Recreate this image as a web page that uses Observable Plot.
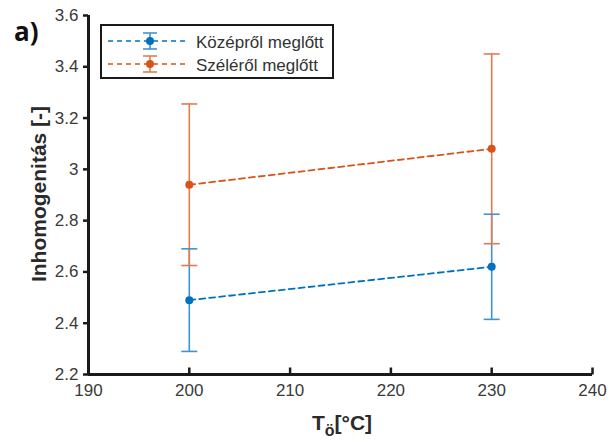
<!DOCTYPE html>
<html><head><meta charset="utf-8">
<script src="https://cdn.jsdelivr.net/npm/d3@7"></script>
<script src="https://cdn.jsdelivr.net/npm/@observablehq/plot@0.6"></script>
<style>
body{margin:0;background:#fff}
#chart{position:relative;width:610px;height:442px}
</style>
</head><body><div id="chart"></div>
<script>
const temps = [200, 230];
const seriesNames = ["Középről meglőtt", "Széléről meglőtt"];
const kozeprolMean = [2.49, 2.62];
const kozeprolErr = [0.20, 0.205];
const szelerolMean = [2.94, 3.08];
const szelerolErr = [0.315, 0.37];
const xTicks = [190, 200, 210, 220, 230, 240];
const yTicks = [2.2, 2.4, 2.6, 2.8, 3, 3.2, 3.4, 3.6];
const colors = ["#0072BD", "#D95319"];
const barColors = ["#3f93cf", "#e37b50"];

const means = [kozeprolMean, szelerolMean];
const errs = [kozeprolErr, szelerolErr];
const rows = [];
seriesNames.forEach((name, s) => temps.forEach((t, i) => rows.push({
  series: s, name, x: t, y: means[s][i], lo: means[s][i] - errs[s][i], hi: means[s][i] + errs[s][i]
})));

const capSymbol = {draw(ctx, size) { const r = Math.sqrt(size / Math.PI); ctx.moveTo(-r, 0); ctx.lineTo(r, 0); }};
const vSymbol = {draw(ctx, size) { const r = Math.sqrt(size / Math.PI); ctx.moveTo(0, -r); ctx.lineTo(0, r); }};

const svg = Plot.plot({
  width: 610, height: 442,
  marginLeft: 88, marginRight: 18, marginTop: 15, marginBottom: 68,
  style: {fontFamily: "'Liberation Sans', Arial, sans-serif", fontSize: "17px", color: "#3a3a3a", background: "white"},
  x: {domain: [190, 240], ticks: xTicks, tickSize: 0, tickPadding: 9, tickFormat: d => String(d), label: null},
  y: {domain: [2.2, 3.6], ticks: yTicks, tickSize: 5, tickPadding: 5, tickFormat: d => String(d), label: null},
  marks: [
    Plot.ruleX(rows, {x: "x", y1: "lo", y2: "hi", stroke: d => barColors[d.series], strokeWidth: 1.6}),
    Plot.dot(rows, {x: "x", y: "lo", symbol: capSymbol, r: 8, fill: "none", stroke: d => barColors[d.series], strokeWidth: 1.6}),
    Plot.dot(rows, {x: "x", y: "hi", symbol: capSymbol, r: 8, fill: "none", stroke: d => barColors[d.series], strokeWidth: 1.6}),
    Plot.line(rows, {x: "x", y: "y", z: "series", stroke: d => colors[d.series], strokeWidth: 1.8, strokeDasharray: "6,4"}),
    Plot.dot(rows, {x: "x", y: "y", r: 4, fill: d => colors[d.series], stroke: "none"}),
    Plot.ruleX([190], {stroke: "#1a1a1a", strokeWidth: 3}),
    Plot.ruleY([2.2], {stroke: "#1a1a1a", strokeWidth: 3}),
    Plot.dot(xTicks, {x: d => d, frameAnchor: "bottom", symbol: vSymbol, r: 3.5, dy: -3.5, fill: "none", stroke: "#1a1a1a", strokeWidth: 2.5})
  ]
});

d3.select(svg).selectAll('g[aria-label$="tick"] path').attr("stroke", "#1a1a1a").attr("stroke-width", 2.5);

const g = d3.select(svg).append("g").attr("font-family", "'Liberation Sans', Arial, sans-serif").attr("text-anchor", "start");
// y label
g.append("text").attr("transform", "translate(46,194) rotate(-90)").attr("text-anchor", "middle")
  .attr("font-weight", "bold").attr("font-size", 21).attr("fill", "#2a2a2a")
  .text("Inhomogenitás [-]");
// x label
const xl = g.append("text").attr("x", 342).attr("y", 430).attr("text-anchor", "middle")
  .attr("font-weight", "bold").attr("font-size", 21).attr("fill", "#2a2a2a");
xl.append("tspan").text("T");
xl.append("tspan").attr("dy", 6).attr("font-size", 16).text("ö");
xl.append("tspan").attr("dy", -6).text("[°C]");
// panel label
g.append("text").attr("x", 14).attr("y", 41).attr("font-family", "'Open Sans', sans-serif")
  .attr("font-weight", "bold").attr("font-size", 26).attr("fill", "#111").text("a)");
// legend
const lg = g.append("g");
lg.append("rect").attr("x", 101).attr("y", 25).attr("width", 232).attr("height", 53)
  .attr("fill", "white").attr("stroke", "#1a1a1a").attr("stroke-width", 2);
seriesNames.forEach((name, s) => {
  const y = 41 + s * 23;
  lg.append("line").attr("x1", 108).attr("x2", 185).attr("y1", y).attr("y2", y)
    .attr("stroke", colors[s]).attr("stroke-width", 1.6).attr("stroke-dasharray", "5,4");
  lg.append("line").attr("x1", 150).attr("x2", 150).attr("y1", y - 8).attr("y2", y + 8)
    .attr("stroke", barColors[s]).attr("stroke-width", 1.6);
  [-8, 8].forEach(o => lg.append("line").attr("x1", 143).attr("x2", 157).attr("y1", y + o).attr("y2", y + o)
    .attr("stroke", barColors[s]).attr("stroke-width", 1.6));
  lg.append("circle").attr("cx", 150).attr("cy", y).attr("r", 4).attr("fill", colors[s]);
  lg.append("text").attr("x", 196).attr("y", y + 1).attr("dominant-baseline", "central")
    .attr("font-size", 17).attr("fill", "#333").text(name);
});

document.getElementById("chart").appendChild(svg);
</script>
</body></html>
